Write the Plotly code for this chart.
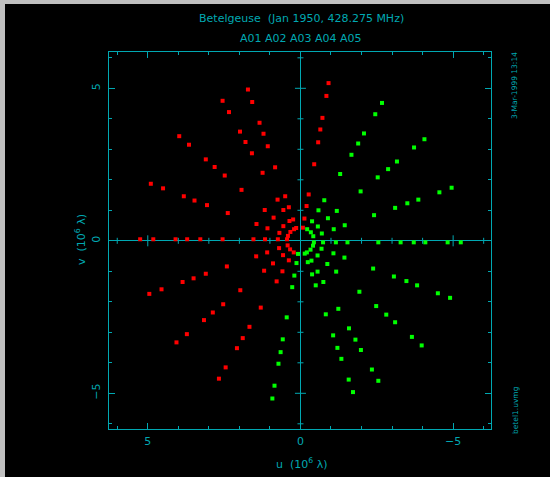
import plotly.graph_objects as go

# ---- data: (u, v) samples in units of 10^6 wavelengths ----
RED_U = [
    -0.92, -0.85, -0.72, -0.65, -0.58, -0.45, -0.27, -0.20, -0.13, -0.08,
    1.72, 1.58, 1.34, 1.21, 1.07, 0.83, 0.50, 0.38, 0.24, 0.14,
    2.55, 2.34, 1.98, 1.80, 1.59, 1.24, 0.75, 0.56, 0.36, 0.21,
    3.97, 3.65, 3.10, 2.81, 2.48, 1.93, 1.17, 0.88, 0.56, 0.33,
    4.90, 4.50, 3.82, 3.47, 3.06, 2.38, 1.44, 1.08, 0.69, 0.41,
    5.25, 4.82, 4.09, 3.71, 3.28, 2.55, 1.54, 1.16, 0.74, 0.44,
    4.95, 4.55, 3.86, 3.50, 3.10, 2.41, 1.45, 1.09, 0.70, 0.42,
    4.06, 3.72, 3.16, 2.87, 2.53, 1.97, 1.19, 0.90, 0.57, 0.34,
    2.67, 2.45, 2.08, 1.89, 1.67, 1.30, 0.78, 0.59, 0.38, 0.22,
]
RED_V = [
    5.17, 4.75, 4.03, 3.65, 3.23, 2.51, 1.52, 1.14, 0.73, 0.43,
    4.96, 4.55, 3.87, 3.51, 3.10, 2.41, 1.46, 1.10, 0.70, 0.42,
    4.59, 4.22, 3.58, 3.24, 2.87, 2.23, 1.35, 1.01, 0.65, 0.38,
    3.43, 3.15, 2.67, 2.42, 2.14, 1.67, 1.01, 0.76, 0.48, 0.29,
    1.87, 1.72, 1.46, 1.32, 1.17, 0.91, 0.55, 0.41, 0.26, 0.16,
    0.05, 0.05, 0.05, 0.05, 0.05, 0.05, 0.05, 0.05, 0.05, 0.05,
    -1.74, -1.59, -1.35, -1.23, -1.08, -0.84, -0.51, -0.38, -0.24, -0.15,
    -3.33, -3.06, -2.60, -2.35, -2.08, -1.62, -0.98, -0.74, -0.47, -0.28,
    -4.52, -4.15, -3.52, -3.19, -2.82, -2.19, -1.33, -1.00, -0.64, -0.38,
]
GREEN_U = [
    0.92, 0.85, 0.72, 0.65, 0.58, 0.45, 0.27, 0.20, 0.13, 0.08,
    -1.72, -1.58, -1.34, -1.21, -1.07, -0.83, -0.50, -0.38, -0.24, -0.14,
    -2.55, -2.34, -1.98, -1.80, -1.59, -1.24, -0.75, -0.56, -0.36, -0.21,
    -3.97, -3.65, -3.10, -2.81, -2.48, -1.93, -1.17, -0.88, -0.56, -0.33,
    -4.90, -4.50, -3.82, -3.47, -3.06, -2.38, -1.44, -1.08, -0.69, -0.41,
    -5.25, -4.82, -4.09, -3.71, -3.28, -2.55, -1.54, -1.16, -0.74, -0.44,
    -4.95, -4.55, -3.86, -3.50, -3.10, -2.41, -1.45, -1.09, -0.70, -0.42,
    -4.06, -3.72, -3.16, -2.87, -2.53, -1.97, -1.19, -0.90, -0.57, -0.34,
    -2.67, -2.45, -2.08, -1.89, -1.67, -1.30, -0.78, -0.59, -0.38, -0.22,
]
GREEN_V = [
    -5.17, -4.75, -4.03, -3.65, -3.23, -2.51, -1.52, -1.14, -0.73, -0.43,
    -4.96, -4.55, -3.87, -3.51, -3.10, -2.41, -1.46, -1.10, -0.70, -0.42,
    -4.59, -4.22, -3.58, -3.24, -2.87, -2.23, -1.35, -1.01, -0.65, -0.38,
    -3.43, -3.15, -2.67, -2.42, -2.14, -1.67, -1.01, -0.76, -0.48, -0.29,
    -1.87, -1.72, -1.46, -1.32, -1.17, -0.91, -0.55, -0.41, -0.26, -0.16,
    -0.05, -0.05, -0.05, -0.05, -0.05, -0.05, -0.05, -0.05, -0.05, -0.05,
    1.74, 1.59, 1.35, 1.23, 1.08, 0.84, 0.51, 0.38, 0.24, 0.15,
    3.33, 3.06, 2.60, 2.35, 2.08, 1.62, 0.98, 0.74, 0.47, 0.28,
    4.52, 4.15, 3.52, 3.19, 2.82, 2.19, 1.33, 1.00, 0.64, 0.38,
]

TITLE_1 = "Betelgeuse\u00a0\u00a0(Jan 1950, 428.275 MHz)"
TITLE_2 = "A01 A02 A03 A04 A05"
X_TITLE = "u\u00a0\u00a0(10<sup>6</sup> \u03bb)"
Y_TITLE = "v\u00a0\u00a0(10<sup>6</sup> \u03bb)"
STAMP = "3-Mar-1999 13:14"
FILE_NAME = "betel1.uvmg"
MAJOR_TICKS = [-5, 0, 5]
UNIT_TICKS = [-6, -5, -4, -3, -2, -1, 1, 2, 3, 4, 5, 6]

CYAN = "#00a8b2"
FONT = "DejaVu Sans"

fig = go.Figure()
fig.add_trace(go.Scatter(x=RED_U, y=RED_V, mode="markers",
                         marker=dict(symbol="square", size=4, color="#ff0000", line=dict(width=0)),
                         hoverinfo="skip", showlegend=False))
fig.add_trace(go.Scatter(x=GREEN_U, y=GREEN_V, mode="markers",
                         marker=dict(symbol="square", size=4, color="#00ff00", line=dict(width=0)),
                         hoverinfo="skip", showlegend=False))

axis_common = dict(
    showgrid=False, zeroline=True, zerolinecolor=CYAN, zerolinewidth=1,
    showline=True, linecolor=CYAN, linewidth=1, mirror="allticks",
    ticks="inside", ticklen=6, tickcolor=CYAN, tickwidth=1,
    tickmode="array", tickvals=MAJOR_TICKS,
    minor=dict(ticks="inside", ticklen=3, dtick=1, tickcolor=CYAN, tickwidth=1, showgrid=False),
    tickfont=dict(family=FONT, size=11, color=CYAN),
)

fig.update_xaxes(range=[6.27, -6.24], ticklabelstandoff=2, **axis_common)
fig.update_yaxes(range=[-6.17, 6.19], tickangle=-90, ticklabelstandoff=4, **axis_common)

shapes = []
# gray strip frame at top/left of the page and black canvas
shapes.append(dict(type="rect", xref="paper", yref="paper",
                   x0=(5 - 109) / 382, x1=(551 - 109) / 382,
                   y0=(429 - 478) / 377, y1=(429 - 4) / 377,
                   fillcolor="black", line=dict(width=0), layer="below"))
# ticks along the zero lines
for t in UNIT_TICKS:
    half = 5.5 if abs(t) == 5 else 3
    shapes.append(dict(type="line", xref="x", yref="y", x0=t, x1=t,
                       ysizemode="pixel", yanchor=0, y0=-half, y1=half,
                       line=dict(color=CYAN, width=1)))
    shapes.append(dict(type="line", xref="x", yref="y", y0=t, y1=t,
                       xsizemode="pixel", xanchor=0, x0=-half, x1=half,
                       line=dict(color=CYAN, width=1)))

def px_x(p):
    return (p - 109) / 382

def px_y(p):
    return (429 - p) / 377

annotations = [
    dict(text=TITLE_1, x=px_x(301), y=px_y(18.5), xref="paper", yref="paper",
         showarrow=False, xanchor="center", yanchor="middle",
         font=dict(family=FONT, size=11, color=CYAN)),
    dict(text=TITLE_2, x=px_x(301), y=px_y(38.5), xref="paper", yref="paper",
         showarrow=False, xanchor="center", yanchor="middle",
         font=dict(family=FONT, size=11, color=CYAN)),
    dict(text=X_TITLE, x=px_x(301.5), y=px_y(463), xref="paper", yref="paper",
         showarrow=False, xanchor="center", yanchor="middle",
         font=dict(family=FONT, size=11, color=CYAN)),
    dict(text=Y_TITLE, x=px_x(80), y=px_y(240), xref="paper", yref="paper",
         showarrow=False, xanchor="center", yanchor="middle", textangle=-90,
         font=dict(family=FONT, size=11, color=CYAN)),
    dict(text=STAMP, x=px_x(515), y=px_y(86), xref="paper", yref="paper",
         showarrow=False, xanchor="center", yanchor="middle", textangle=-90,
         font=dict(family=FONT, size=7.5, color=CYAN)),
    dict(text=FILE_NAME, x=px_x(515), y=px_y(410), xref="paper", yref="paper",
         showarrow=False, xanchor="center", yanchor="middle", textangle=-90,
         font=dict(family=FONT, size=7.5, color=CYAN)),
]

fig.update_layout(
    width=550, height=477,
    margin=dict(l=109, r=59, t=52, b=48),
    paper_bgcolor="#c0c0c0", plot_bgcolor="black",
    shapes=shapes, annotations=annotations,
    showlegend=False,
)

fig.write_html("out.html")
